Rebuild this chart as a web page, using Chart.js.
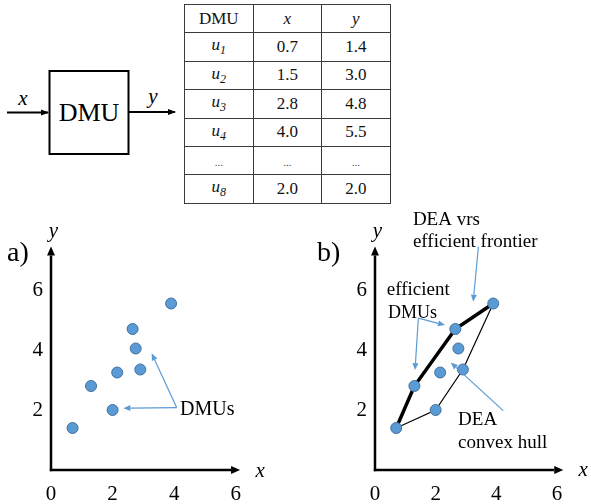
<!DOCTYPE html>
<html>
<head>
<meta charset="utf-8">
<script src="https://cdn.jsdelivr.net/npm/chart.js@4/dist/chart.umd.min.js"></script>
<style>
body { margin: 0; width: 591px; height: 504px; background: #fff; position: relative; overflow: hidden;
  font-family: "Liberation Serif", "Times New Roman", serif; }
#diagram { position: absolute; left: 0; top: 0; }
#tbl { position: absolute; left: 184px; top: 4px; border-collapse: collapse; font-size: 17px; color: #111;
  font-family: "Liberation Serif", "Times New Roman", serif; }
#tbl td { border: 1px solid #3a3a3a; width: 67.5px; height: 27.4px; text-align: center; padding: 0; }
#tbl sub { font-size: 12px; }
.dots { font-size: 11px; color: #444; }
canvas { position: absolute; top: 200px; }
#panelA { left: 0; }
#panelB { left: 296px; }
</style>
</head>
<body>
<svg id="diagram" width="184" height="200">
  <defs>
    <marker id="ah" markerWidth="8" markerHeight="8" refX="7" refY="4" orient="auto" markerUnits="userSpaceOnUse">
      <path d="M0,1 L8,4 L0,7 z" fill="#000"/>
    </marker>
  </defs>
  <line x1="7" y1="112.5" x2="48" y2="112.5" stroke="#000" stroke-width="2" marker-end="url(#ah)"/>
  <rect x="49.5" y="71" width="79" height="83" fill="none" stroke="#000" stroke-width="2"/>
  <text x="89" y="121" font-size="26" text-anchor="middle" font-family="Liberation Serif">DMU</text>
  <line x1="129" y1="112" x2="175" y2="112" stroke="#000" stroke-width="2" marker-end="url(#ah)"/>
  <text x="23" y="104.5" font-size="21" font-style="italic" text-anchor="middle" font-family="Liberation Serif">x</text>
  <text x="153" y="103" font-size="21" font-style="italic" text-anchor="middle" font-family="Liberation Serif">y</text>
</svg>
<table id="tbl"></table>
<canvas id="panelA" width="295" height="304"></canvas>
<canvas id="panelB" width="295" height="304"></canvas>
<script>
// table in the top right
const tableDmu = ["1", "2", "3", "4", "...", "8"];
const tableX = ["0.7", "1.5", "2.8", "4.0", "...", "2.0"];
const tableY = ["1.4", "3.0", "4.8", "5.5", "...", "2.0"];

// DMUs as drawn in the plots
const dmuX = [0.7, 1.3, 2.0, 2.15, 2.65, 2.75, 2.9, 3.9];
const dmuY = [1.4, 2.8, 2.0, 3.25, 4.7, 4.05, 3.35, 5.55];
const frontierX = [0.7, 1.3, 2.65, 3.9];
const frontierY = [1.4, 2.8, 4.7, 5.55];
const hullX = [0.7, 2.0, 2.9, 3.9];
const hullY = [1.4, 2.0, 3.35, 5.55];

const xTicks = [0, 2, 4, 6];
const yTicks = [2, 4, 6];

const BLUE = "#5B9BD5";
const SERIF = '"Liberation Serif", "Times New Roman", serif';

const tbl = document.getElementById("tbl");
let html = '<tr><td>DMU</td><td><i>x</i></td><td><i>y</i></td></tr>';
tableDmu.forEach((d, i) => {
  const dots = d === "...";
  const first = dots ? '<span class="dots">...</span>' : '<i>u<sub>' + d + '</sub></i>';
  const cx = dots ? '<span class="dots">...</span>' : tableX[i];
  const cy = dots ? '<span class="dots">...</span>' : tableY[i];
  html += '<tr><td>' + first + '</td><td>' + cx + '</td><td>' + cy + '</td></tr>';
});
tbl.innerHTML = html;

function toPoints(xs, ys) {
  return xs.map((v, i) => ({x: v, y: ys[i]}));
}

function drawArrow(ctx, x1, y1, x2, y2, color, width, len, half) {
  const a = Math.atan2(y2 - y1, x2 - x1);
  const bx = x2 - len * Math.cos(a), by = y2 - len * Math.sin(a);
  ctx.strokeStyle = color;
  ctx.lineWidth = width;
  ctx.beginPath();
  ctx.moveTo(x1, y1);
  ctx.lineTo(bx, by);
  ctx.stroke();
  ctx.fillStyle = color;
  ctx.beginPath();
  ctx.moveTo(x2, y2);
  ctx.lineTo(bx + half * Math.sin(a), by - half * Math.cos(a));
  ctx.lineTo(bx - half * Math.sin(a), by + half * Math.cos(a));
  ctx.closePath();
  ctx.fill();
}

function figurePlugin(p) {
  return {
    id: "figure",
    beforeDatasetsDraw(chart) {
      const {ctx, scales: {x, y}} = chart;
      const x0 = x.getPixelForValue(0), y0 = y.getPixelForValue(0);
      ctx.save();
      drawArrow(ctx, x0, y0 + 1.2, x0, y.getPixelForValue(7.45), "#000", 2.5, 9, 4);
      drawArrow(ctx, x0 - 1.2, y0, x.getPixelForValue(p.xEnd), y0, "#000", 2.5, 9, 4);
      ctx.restore();
    },
    afterDatasetsDraw(chart) {
      const {ctx, scales: {x, y}} = chart;
      ctx.save();
      ctx.fillStyle = "#000";
      ctx.textBaseline = "middle";
      ctx.textAlign = "left";
      ctx.font = "28px " + SERIF;
      ctx.fillText(p.label, x.getPixelForValue(p.labelAt[0]), y.getPixelForValue(p.labelAt[1]));
      ctx.font = "italic 21px " + SERIF;
      ctx.textAlign = "center";
      ctx.fillText("y", x.getPixelForValue(p.yAt[0]), y.getPixelForValue(p.yAt[1]));
      ctx.fillText("x", x.getPixelForValue(p.xAt[0]), y.getPixelForValue(p.xAt[1]));
      ctx.textAlign = "left";
      p.texts.forEach(t => {
        ctx.font = t[3] + "px " + SERIF;
        ctx.fillText(t[0], x.getPixelForValue(t[1]), y.getPixelForValue(t[2]));
      });
      p.arrows.forEach(a => {
        drawArrow(ctx, x.getPixelForValue(a[0]), y.getPixelForValue(a[1]),
          x.getPixelForValue(a[2]), y.getPixelForValue(a[3]), BLUE, 1.2, 7, 3);
      });
      ctx.restore();
    }
  };
}

function makePanel(id, p, withHull) {
  const datasets = [{
    data: toPoints(dmuX, dmuY),
    pointRadius: 5.5,
    backgroundColor: BLUE,
    borderColor: "#41719C",
    borderWidth: 1,
    showLine: false
  }];
  if (withHull) {
    datasets.push({
      data: toPoints(frontierX, frontierY),
      showLine: true, borderColor: "#000", borderWidth: 3.5, pointRadius: 0
    });
    datasets.push({
      data: toPoints(hullX, hullY),
      showLine: true, borderColor: "#000", borderWidth: 1.2, pointRadius: 0
    });
  }
  const tickFont = {family: SERIF, size: 21};
  return new Chart(document.getElementById(id), {
    type: "scatter",
    data: {datasets},
    options: {
      responsive: false,
      animation: false,
      events: [],
      layout: {padding: {top: 45, right: p.padRight, bottom: 0, left: 0}},
      plugins: {legend: {display: false}, tooltip: {enabled: false}},
      scales: {
        x: {
          type: "linear", min: 0, max: 6.3,
          grid: {display: false, drawTicks: false},
          border: {display: false},
          ticks: {font: tickFont, color: "#000", padding: 12, autoSkip: false, maxRotation: 0},
          afterBuildTicks: s => { s.ticks = xTicks.map(v => ({value: v})); },
          afterFit: s => { s.height = 34; }
        },
        y: {
          type: "linear", min: 0, max: 7.5,
          grid: {display: false, drawTicks: false},
          border: {display: false},
          ticks: {font: tickFont, color: "#000", padding: 8, autoSkip: false},
          afterBuildTicks: s => { s.ticks = yTicks.map(v => ({value: v})); },
          afterFit: s => { s.width = p.yWidth; }
        }
      }
    },
    plugins: [figurePlugin(p)]
  });
}

makePanel("panelA", {
  yWidth: 51, padRight: 50, xEnd: 6.14,
  label: "a)", labelAt: [-1.43, 7.2],
  yAt: [0.075, 7.94], xAt: [6.79, -0.05],
  texts: [["DMUs", 4.19, 2.0, 20]],
  arrows: [[4.08, 2.08, 2.35, 2.06], [4.08, 2.08, 3.27, 3.89]]
}, false);

makePanel("panelB", {
  yWidth: 79, padRight: 25, xEnd: 6.21,
  label: "b)", labelAt: [-1.91, 7.2],
  yAt: [0.08, 7.94], xAt: [6.87, 0],
  texts: [
    ["DEA vrs", 1.25, 8.33, 19],
    ["efficient frontier", 1.25, 7.59, 19],
    ["efficient", 0.39, 6.0, 19],
    ["DMUs", 0.43, 5.22, 18],
    ["DEA", 2.74, 1.67, 19],
    ["convex hull", 2.74, 0.89, 19]
  ],
  arrows: [
    [3.41, 7.44, 3.24, 5.61],
    [1.43, 5.06, 2.31, 4.83],
    [1.43, 5.06, 1.32, 3.33],
    [4.23, 1.98, 2.5, 3.58]
  ]
}, true);
</script>
</body>
</html>
